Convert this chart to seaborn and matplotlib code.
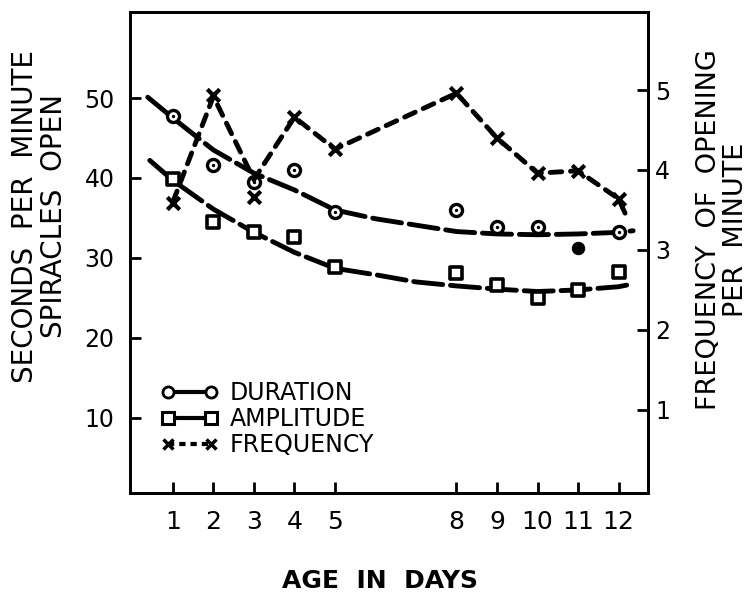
import matplotlib
matplotlib.use('Agg')
import matplotlib.pyplot as plt
import seaborn as sns
from matplotlib.lines import Line2D

# values
days = [1, 2, 3, 4, 5, 8, 9, 10, 11, 12]
day_labels = ['1', '2', '3', '4', '5', '8', '9', '10', '11', '12']
duration = [47.8, 41.6, 39.5, 41.0, 35.8, 36.0, 33.9, 33.9, 31.2, 33.2]
amplitude = [39.9, 34.5, 33.2, 32.6, 28.9, 28.1, 26.6, 25.0, 26.0, 28.3]
frequency = [3.59, 4.94, 3.66, 4.66, 4.26, 4.96, 4.40, 3.96, 3.99, 3.64]

# hand drawn trend curves (read point by point)
dur_fit_days = [0.38, 1, 2, 3, 4, 5, 6, 7, 8, 9, 10, 11, 12, 12.36]
dur_fit = [50.1, 47.5, 43.5, 40.6, 38.5, 36.0, 34.9, 34.1, 33.3, 33.0, 32.9, 33.0, 33.2, 33.4]
amp_fit_days = [0.43, 1, 2, 3, 4, 5, 6, 7, 8, 9, 10, 11, 12, 12.2]
amp_fit = [42.2, 39.7, 36.1, 33.2, 30.7, 28.7, 27.9, 27.0, 26.5, 26.1, 25.8, 26.0, 26.4, 26.6]
freq_line_days = [1, 2, 3, 4, 5, 8, 9, 10, 11, 12, 12.16]
freq_line = [3.60, 4.92, 3.88, 4.66, 4.26, 4.96, 4.40, 3.96, 3.99, 3.64, 3.46]
filled_day = 11

sns.set_style('ticks')
plt.rcParams['font.family'] = ['DejaVu Sans']
plt.rcParams['axes.linewidth'] = 2
for k in ['text.color', 'axes.labelcolor', 'xtick.color', 'ytick.color', 'axes.edgecolor']:
    plt.rcParams[k] = 'black'

fig = plt.figure(figsize=(7.51, 6.02), dpi=100)
ax = fig.add_axes([0.173, 0.181, 0.690, 0.799])
ax2 = ax.twinx()

long_dash = (0, (6, 1.6))
short_dash = (0, (2.4, 1.8))

# trend curves
sns.lineplot(x=dur_fit_days, y=dur_fit, ax=ax, color='black', lw=3.5,
             linestyle=long_dash, dash_capstyle='round')
sns.lineplot(x=amp_fit_days, y=amp_fit, ax=ax, color='black', lw=3.5,
             linestyle=long_dash, dash_capstyle='round')
sns.lineplot(x=freq_line_days, y=freq_line, ax=ax2, color='black', lw=3.5,
             linestyle=short_dash, dash_capstyle='round')

# duration points (circle with centre dot)
open_d = [d for d in days if d != filled_day]
open_v = [v for d, v in zip(days, duration) if d != filled_day]
sns.scatterplot(x=open_d, y=open_v, ax=ax, marker='o', s=75, color='white',
                edgecolor='black', linewidth=2.4, zorder=5)
sns.scatterplot(x=open_d, y=open_v, ax=ax, marker='o', s=6, color='black',
                edgecolor='black', linewidth=0, zorder=6)
sns.scatterplot(x=[filled_day], y=[duration[days.index(filled_day)]], ax=ax,
                marker='o', s=80, color='black', edgecolor='black', zorder=5)

# amplitude points
sns.scatterplot(x=days, y=amplitude, ax=ax, marker='s', s=75, color='white',
                edgecolor='black', linewidth=2.6, zorder=5)

# frequency points
sns.scatterplot(x=days, y=frequency, ax=ax2, marker='x', s=80, color='black',
                linewidth=3, zorder=5)

ax.set_xlim(-0.06, 12.73)
ax.set_ylim(0.6, 60.75)
ax2.set_ylim(-0.04, 5.975)

ax.set_xticks(days)
ax.set_xticklabels(day_labels)
ax.set_yticks([10, 20, 30, 40, 50])
ax2.set_yticks([1, 2, 3, 4, 5])

ax.tick_params(axis='x', direction='in', length=8, width=2, labelsize=18, pad=12)
ax.tick_params(axis='y', direction='in', length=8, width=2, labelsize=17, pad=11)
ax2.tick_params(axis='y', direction='in', length=8, width=2, labelsize=17, pad=5)

ax.set_xlabel('AGE  IN  DAYS', fontsize=18, fontweight='bold')
ax.xaxis.set_label_coords(0.483, -0.158)
ax.set_ylabel('SECONDS  PER  MINUTE\nSPIRACLES  OPEN', fontsize=20, linespacing=1.05)
ax.yaxis.set_label_coords(-0.12, 0.575)
ax2.set_ylabel('FREQUENCY  OF  OPENING\nPER  MINUTE', fontsize=19.5, linespacing=1.05)
ax2.yaxis.set_label_coords(1.092, 0.547)

for s in ax2.spines.values():
    s.set_linewidth(2)

handles = [
    Line2D([], [], color='black', lw=3, marker='o', ms=8, mfc='white', mec='black', mew=2),
    Line2D([], [], color='black', lw=3, marker='s', ms=8, mfc='white', mec='black', mew=2.2),
    Line2D([], [], color='black', lw=3, marker='x', ms=7, mew=2.5, linestyle=(0, (1.5, 1.2))),
]
ax2.legend(handles, ['DURATION', 'AMPLITUDE', 'FREQUENCY'], numpoints=2,
           loc='upper left', bbox_to_anchor=(0.06, 0.232), frameon=False,
           fontsize=17, handlelength=2.4, handletextpad=0.5, labelspacing=0.08,
           borderpad=0, borderaxespad=0)

fig.savefig('out.png', dpi=100)
